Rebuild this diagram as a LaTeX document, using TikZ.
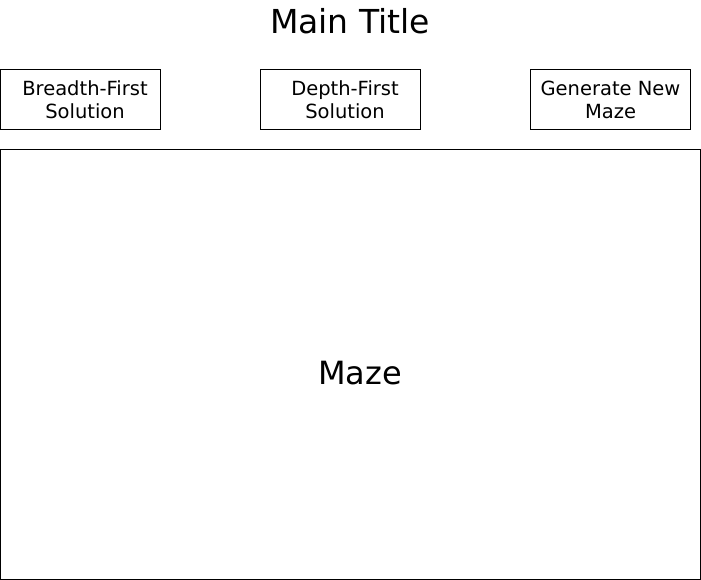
\documentclass[tikz,border=0pt]{standalone}
\usepackage{fontspec}
\setmainfont{DejaVu Sans}
\usepackage{tikz}

\tikzset{
  button/.style={draw=black, line width=0.8pt, minimum width=160pt, minimum height=60pt,
    inner sep=0pt, align=center, font=\fontsize{19.5}{23}\selectfont},
  mazebox/.style={draw=black, line width=0.8pt, minimum width=700pt, minimum height=430pt,
    inner sep=0pt}
}

\begin{document}
\begin{tikzpicture}[x=1pt,y=-1pt]
        \useasboundingbox (0,0) rectangle (701,580);
        \node[font=\fontsize{33}{38}\selectfont] (title) at (350,21.5) {Main Title};
        \node[button] (bfs) at (80.5,99.5) {\hspace*{9pt}Breadth-First\\\hspace*{9pt}Solution};
        \node[button] (dfs) at (340.5,99.5) {\hspace*{9pt}Depth-First\\\hspace*{9pt}Solution};
        \node[button] (gen) at (610.5,99.5) {Generate New\\Maze};
        \node[mazebox] (maze) at (350.5,364.5) {};
        \node[font=\fontsize{32}{38}\selectfont] (mazelabel) at (360,373) {Maze};
    \end{tikzpicture}
\end{document}
